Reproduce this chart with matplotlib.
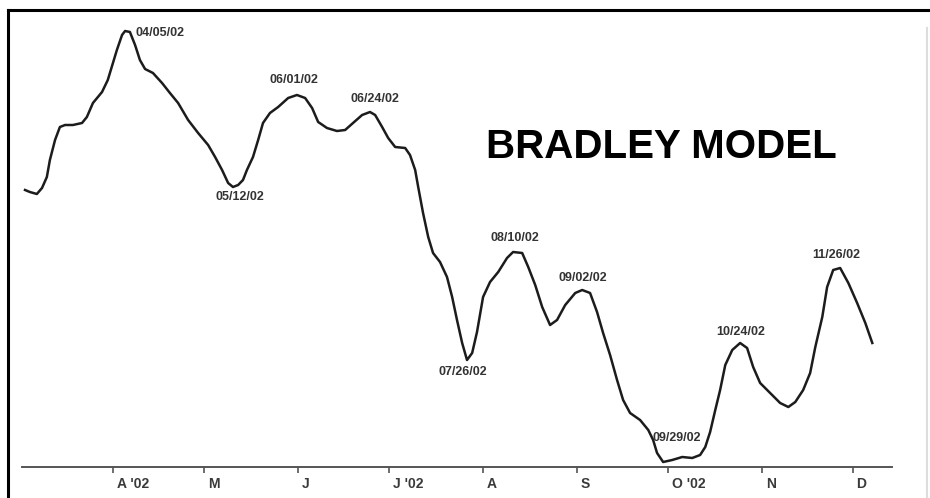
import numpy as np
import matplotlib
matplotlib.use("Agg")
import matplotlib.pyplot as plt
from matplotlib.lines import Line2D
from matplotlib.transforms import ScaledTranslation

plt.rcParams['font.family'] = ['Liberation Sans', 'DejaVu Sans']

# Bradley model
# day = days after 2002-03-01, value = height of the curve above the baseline
days = [2.0, 3.6, 5.9, 7.6, 9.2, 10.2, 11.9, 13.5, 15.2, 17.8, 20.8, 22.4, 24.4, 27.4,
        29.3, 31.0, 32.3, 34.0, 35.0, 36.6, 38.3, 39.9, 41.6, 44.2, 47.2, 49.8, 52.5,
        55.8, 59.1, 62.4, 64.7, 67.0, 69.0, 70.6, 72.3, 73.9, 75.2, 77.2, 78.9, 80.5,
        82.8, 85.5, 88.8, 91.7, 94.4, 96.7, 98.7, 101.6, 104.9, 107.6, 110.2, 113.2,
        115.8, 117.5, 119.8, 121.8, 124.1, 127.4, 129.0, 130.7, 131.7, 133.3, 135.0,
        136.6, 138.9, 141.2, 142.9, 144.5, 146.2, 147.8, 149.5, 151.1, 153.1, 155.4,
        158.1, 161.0, 163.0, 166.0, 168.0, 170.3, 172.6, 175.2, 177.5, 180.2, 183.5,
        185.8, 188.4, 190.7, 192.7, 195.0, 197.3, 199.3, 201.6, 204.9, 207.6, 209.2,
        210.5, 212.5, 215.5, 218.8, 222.1, 224.7, 226.4, 228.0, 229.7, 231.3, 233.0,
        235.3, 237.9, 240.2, 242.2, 244.5, 247.8, 251.1, 253.8, 256.1, 258.7, 261.0,
        262.7, 265.0, 266.6, 268.6, 270.9, 273.6, 276.5, 279.2, 281.5]
values = [277, 275, 273, 279, 290, 307, 327, 340, 342, 342, 344, 350, 364, 375,
          387, 404, 417, 432, 436, 435, 422, 407, 398, 394, 384, 374, 364,
          347, 334, 322, 310, 297, 284, 280, 282, 287, 297, 310, 327, 344,
          354, 360, 369, 372, 369, 359, 345, 339, 336, 337, 344, 352,
          355, 352, 340, 329, 320, 319, 312, 297, 280, 254, 230,
          214, 205, 190, 170, 147, 124, 107, 114, 135, 170, 185,
          195, 209, 215, 214, 200, 182, 160, 142, 147, 162, 174,
          177, 174, 155, 134, 112, 87, 67, 54, 47, 37, 27,
          14, 5, 7, 10, 9, 12, 20, 35, 57, 77, 102,
          117, 124, 119, 100, 84, 74, 64, 60, 65, 77, 94,
          120, 150, 180, 197, 199, 184, 164, 144, 124]

# turning points named on the chart
turn_labels = ['04/05/02', '05/12/02', '06/01/02', '06/24/02', '07/26/02',
               '08/10/02', '09/02/02', '09/29/02', '10/24/02', '11/26/02']
turn_days = [35.0, 70.6, 91.7, 115.8, 147.8, 163.0, 185.8, 212.5, 237.9, 270.9]

month_days = [31, 61, 92, 122, 153, 184, 214, 245, 275]
month_labels = ["A '02", 'M', 'J', "J '02", 'A', 'S', "O '02", 'N', 'D']

W, H = 930, 498
fig = plt.figure(figsize=(W / 100, H / 100), dpi=100)
fig.patch.set_facecolor('white')

# axes: baseline at y=467px, x range mapped 22px..892px
x0, x1 = 22, 892
base, top = 467, 10
ax = fig.add_axes([x0 / W, (H - base) / H, (x1 - x0) / W, (base - top) / H])
ax.set_xlim(1, 288)
ax.set_ylim(0, base - top)
ax.patch.set_alpha(0)

ax.plot(days, values, color='#1c1c1c', lw=1.8, solid_joinstyle='round')

for s in ['top', 'right', 'left']:
    ax.spines[s].set_visible(False)
ax.spines['bottom'].set_color('#555555')
ax.spines['bottom'].set_linewidth(1.4)
ax.set_yticks([])

ax.set_xticks(month_days)
ax.set_xticklabels(month_labels, ha='left', fontsize=10, fontweight='bold',
                   color='#3a3a3a')
ax.tick_params(axis='x', direction='out', length=4, width=1.2, color='#555555', pad=3)
shift = ScaledTranslation(4 / 100, 0, fig.dpi_scale_trans)
for lab in ax.get_xticklabels():
    lab.set_transform(lab.get_transform() + shift)

# label offsets in pixels (dx, dy) and alignment
offsets = [(10, -2, 'left'), (7, -10, 'center'), (-3, 15, 'center'), (5, 13, 'center'),
           (-4, -12, 'center'), (2, 14, 'center'), (1, 12, 'center'), (14, 24, 'center'),
           (1, 11, 'center'), (-4, 13, 'center')]
for txt, d, (dx, dy, ha) in zip(turn_labels, turn_days, offsets):
    v = values[int(np.argmin(np.abs(np.array(days) - d)))]
    ax.annotate(txt, xy=(d, v), xytext=(dx, dy), textcoords='offset pixels',
                ha=ha, va='center', fontsize=9, fontweight='bold', color='#333333')

fig.text(661 / W, (H - 147) / H, 'BRADLEY MODEL', ha='center', va='center',
         fontsize=29, fontweight='bold', color='black')

# frame: thick top and left edges, faint right edge
fig.add_artist(Line2D([8 / W, 1], [(H - 10) / H] * 2, color='black', lw=2.2))
fig.add_artist(Line2D([8 / W] * 2, [0, (H - 10) / H], color='black', lw=2.2))
fig.add_artist(Line2D([927 / W] * 2, [0, (H - 28) / H], color='#dddddd', lw=1.5))

fig.savefig('out.png', dpi=100)
